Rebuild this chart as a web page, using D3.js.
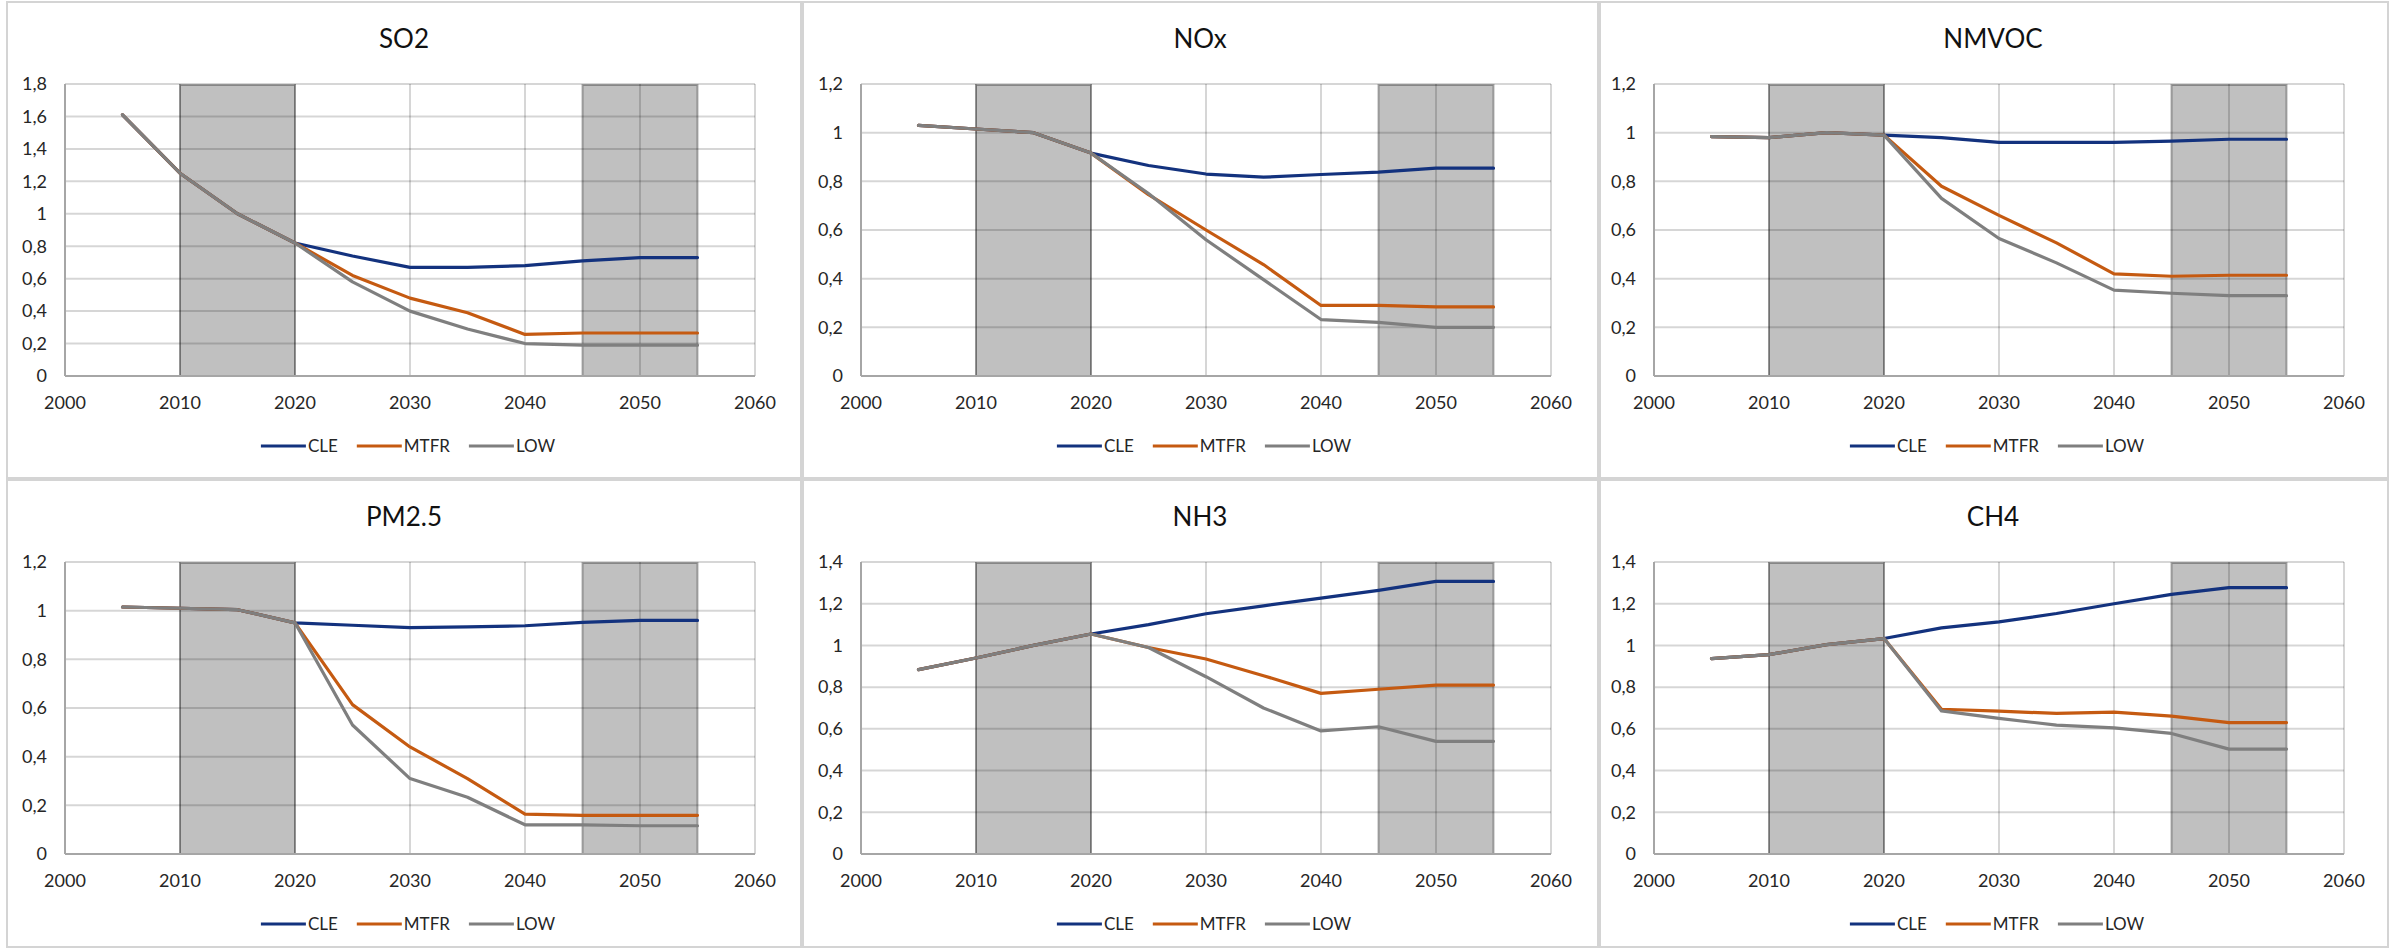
<!DOCTYPE html>
<html>
<head>
<meta charset="utf-8">
<script src="https://cdn.jsdelivr.net/npm/d3@7.9.0/dist/d3.min.js"></script>
<style>
  html, body { margin: 0; padding: 0; background: #fff; }
  svg { display: block; font-family: Lato, "Open Sans", sans-serif; }
</style>
</head>
<body>
<svg id="chart" width="2402" height="950"></svg>
<script>
// data
const years = [2005, 2010, 2015, 2020, 2025, 2030, 2035, 2040, 2045, 2050, 2055];
const pollutants = ['SO2', 'NOx', 'NMVOC', 'PM2.5', 'NH3', 'CH4'];
const yMaxes = [1.8, 1.2, 1.2, 1.2, 1.4, 1.4];
const xTicks = [2000, 2010, 2020, 2030, 2040, 2050, 2060];
const bands = [[2010, 2020], [2045, 2055]];
const scenarios = ['CLE', 'MTFR', 'LOW'];
const colors = ['#13327e', '#c55a11', '#7f7f7f'];

// one row per pollutant, same order as pollutants
const cle = [
  [1.61, 1.25, 1.00, 0.82, 0.74, 0.67, 0.67, 0.68, 0.71, 0.73, 0.73],
  [1.03, 1.015, 1.00, 0.916, 0.865, 0.83, 0.817, 0.828, 0.838, 0.854, 0.854],
  [0.984, 0.98, 1.00, 0.99, 0.98, 0.96, 0.96, 0.96, 0.965, 0.973, 0.973],
  [1.015, 1.01, 1.004, 0.95, 0.94, 0.93, 0.933, 0.938, 0.952, 0.96, 0.96],
  [0.884, 0.94, 1.00, 1.055, 1.10, 1.152, 1.19, 1.227, 1.264, 1.307, 1.307],
  [0.937, 0.956, 1.004, 1.033, 1.084, 1.113, 1.153, 1.20, 1.245, 1.277, 1.277]
];
const mtfr = [
  [1.61, 1.25, 1.00, 0.82, 0.62, 0.48, 0.39, 0.256, 0.265, 0.265, 0.265],
  [1.03, 1.015, 1.00, 0.916, 0.745, 0.60, 0.458, 0.29, 0.29, 0.284, 0.284],
  [0.984, 0.98, 1.00, 0.99, 0.78, 0.66, 0.547, 0.42, 0.41, 0.414, 0.414],
  [1.015, 1.01, 1.004, 0.95, 0.614, 0.44, 0.31, 0.164, 0.159, 0.159, 0.159],
  [0.884, 0.94, 1.00, 1.055, 0.99, 0.935, 0.855, 0.77, 0.79, 0.81, 0.81],
  [0.937, 0.956, 1.004, 1.033, 0.694, 0.685, 0.674, 0.68, 0.661, 0.63, 0.63]
];
const low = [
  [1.61, 1.25, 1.00, 0.82, 0.58, 0.40, 0.29, 0.20, 0.19, 0.19, 0.19],
  [1.03, 1.015, 1.00, 0.916, 0.75, 0.56, 0.396, 0.232, 0.22, 0.20, 0.20],
  [0.984, 0.98, 1.00, 0.99, 0.73, 0.565, 0.465, 0.353, 0.34, 0.33, 0.33],
  [1.015, 1.01, 1.004, 0.95, 0.53, 0.31, 0.233, 0.12, 0.12, 0.116, 0.116],
  [0.884, 0.94, 1.00, 1.055, 0.99, 0.85, 0.70, 0.59, 0.61, 0.54, 0.54],
  [0.937, 0.956, 1.004, 1.033, 0.686, 0.65, 0.618, 0.605, 0.578, 0.503, 0.503]
];
const seriesSets = [cle, mtfr, low];

// layout
const panelX = [7, 803, 1600];
const panelW = [794, 795, 788];
const panelY = [2, 480];
const panelH = [476, 467];
const plotLeft = [65, 861, 1654];
const plotW = 690;
const plotTop = [84, 562];
const plotH = 292;

const svg = d3.select('#chart');
const fmt = (d) => String(+d.toFixed(1)).replace('.', ',');

pollutants.forEach((name, i) => {
  const col = i % 3, row = Math.floor(i / 3);

  // panel frame
  svg.append('rect')
    .attr('x', panelX[col]).attr('y', panelY[row])
    .attr('width', panelW[col]).attr('height', panelH[row])
    .attr('fill', '#fff').attr('stroke', '#d4d4d4').attr('stroke-width', 2);

  const x = d3.scaleLinear().domain([2000, 2060]).range([plotLeft[col], plotLeft[col] + plotW]);
  const y = d3.scaleLinear().domain([0, yMaxes[i]]).range([plotTop[row] + plotH, plotTop[row]]);
  const yTicks = d3.range(0, yMaxes[i] + 0.001, 0.2);

  const g = svg.append('g');

  // shaded periods
  g.selectAll('rect.band')
    .data(bands)
    .join('rect')
    .attr('class', 'band')
    .attr('x', (d) => x(d[0]))
    .attr('y', y(yMaxes[i]) + 1)
    .attr('width', (d) => x(d[1]) - x(d[0]))
    .attr('height', y(0) - y(yMaxes[i]) - 1)
    .attr('fill', '#c0c0c0')
    .attr('stroke', 'rgba(0,0,0,0.3)')
    .attr('stroke-width', 2);

  // gridlines
  g.selectAll('line.hgrid')
    .data(yTicks)
    .join('line')
    .attr('x1', x(2000)).attr('x2', x(2060))
    .attr('y1', (d) => y(d)).attr('y2', (d) => y(d))
    .attr('stroke', 'rgba(0,0,0,0.16)').attr('stroke-width', 2);
  g.selectAll('line.vgrid')
    .data(xTicks)
    .join('line')
    .attr('x1', (d) => x(d)).attr('x2', (d) => x(d))
    .attr('y1', y(yMaxes[i])).attr('y2', y(0))
    .attr('stroke', 'rgba(0,0,0,0.16)').attr('stroke-width', 2);

  // axis lines
  g.append('line')
    .attr('x1', x(2000)).attr('x2', x(2060))
    .attr('y1', y(0)).attr('y2', y(0))
    .attr('stroke', '#a6a6a6').attr('stroke-width', 2);
  g.append('line')
    .attr('x1', x(2000)).attr('x2', x(2000))
    .attr('y1', y(yMaxes[i])).attr('y2', y(0))
    .attr('stroke', '#a6a6a6').attr('stroke-width', 2);

  // tick labels
  g.selectAll('text.xt')
    .data(xTicks)
    .join('text')
    .attr('x', (d) => x(d))
    .attr('y', y(0) + 33)
    .attr('text-anchor', 'middle')
    .attr('font-size', 18)
    .attr('fill', '#262626')
    .text((d) => d);
  g.selectAll('text.yt')
    .data(yTicks)
    .join('text')
    .attr('x', x(2000) - 18)
    .attr('y', (d) => y(d))
    .attr('dy', '0.35em')
    .attr('text-anchor', 'end')
    .attr('font-size', 18)
    .attr('fill', '#262626')
    .text(fmt);

  // series
  const line = d3.line()
    .x((d, k) => x(years[k]))
    .y((d) => y(d));
  seriesSets.forEach((set, s) => {
    g.append('path')
      .attr('d', line(set[i]))
      .attr('fill', 'none')
      .attr('stroke', colors[s])
      .attr('stroke-width', 3.2)
      .attr('stroke-linejoin', 'round')
      .attr('stroke-linecap', 'round');
  });

  // title
  const cx = plotLeft[col] + plotW / 2 - 6;
  g.append('text')
    .attr('x', cx)
    .attr('y', plotTop[row] - 36)
    .attr('text-anchor', 'middle')
    .attr('font-size', 26)
    .attr('fill', '#111')
    .text(name);

  // legend
  const leg = g.append('g');
  let pos = 0;
  scenarios.forEach((sc, s) => {
    leg.append('line')
      .attr('x1', pos).attr('x2', pos + 45)
      .attr('y1', 0).attr('y2', 0)
      .attr('stroke', colors[s]).attr('stroke-width', 3.2);
    const t = leg.append('text')
      .attr('x', pos + 47)
      .attr('y', 6)
      .attr('font-size', 17)
      .attr('fill', '#262626')
      .text(sc);
    pos += 47 + t.node().getComputedTextLength() + 19;
  });
  const legW = pos - 19;
  leg.attr('transform', `translate(${cx - legW / 2 + 4},${y(0) + 70})`);
});
</script>
</body>
</html>
